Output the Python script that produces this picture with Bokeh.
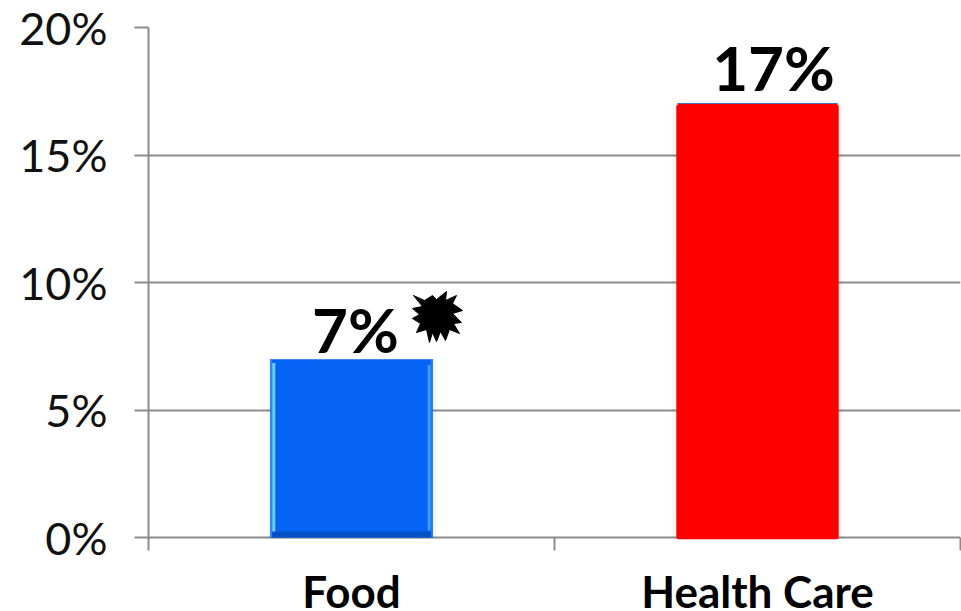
from bokeh.core.properties import value
from bokeh.embed import file_html
from bokeh.layouts import column
from bokeh.models import ColumnDataSource, FixedTicker, LabelSet, Range1d
from bokeh.plotting import figure
from bokeh.resources import INLINE

categories = ["Food", "Health Care"]
values = [7, 17]
bar_colors = ["#0563F5", "#FF0000"]
y_ticks = [0, 5, 10, 15, 20]

GRAY = "#8C8C8C"
FONT = "Lato"
BAR_WIDTH = 0.4
centers = [0.5, 1.5]

# Burst outline beside the Food label, as pixel offsets from its centre
burst_px = [(-24, -20), (-13, -15), (-5, -20), (-1, -16), (9, -24), (8, -15), (19, -20),
            (15, -12), (25, -5), (15, -2), (24, 7), (16, 8), (22, 18), (12, 14),
            (8, 25), (3, 16), (-1, 26), (-5, 17), (-8, 27), (-11, 14), (-21, 17), (-17, 8),
            (-25, 3), (-18, -1), (-25, -7), (-15, -9)]
burst_center_px = (437, 315)

# Pixel layout: one percent spans 25.5 px, the frame runs 2 px below zero
# so the red bar can overhang the baseline.
FRAME_LEFT, FRAME_TOP, FRAME_W, ZERO_Y = 148, 27, 812, 537
OVERHANG, TICK_OUT = 2, 11
PAGE_H = 611
LABEL_H = 61
TOP_BLEED = 8  # extra canvas above the page so the top tick label stays centred on its tick

x_per_px = 2 / FRAME_W
y_per_px = 20 / (ZERO_Y - FRAME_TOP)

p = figure(width=961, height=PAGE_H + TOP_BLEED, output_backend="svg", toolbar_location=None,
           x_range=Range1d(0, 2), y_range=Range1d(-OVERHANG * y_per_px, 20),
           min_border_left=FRAME_LEFT, min_border_right=1,
           min_border_top=FRAME_TOP + TOP_BLEED,
           min_border_bottom=PAGE_H - ZERO_Y - OVERHANG,
           margin=(-TOP_BLEED, 0, 0, 0))
p.outline_line_color = None
p.background_fill_color = "white"
p.border_fill_color = "white"

# Y axis with a percent label on every tick
p.yaxis.ticker = FixedTicker(ticks=y_ticks)
p.yaxis.major_label_overrides = {v: f"{v}%" for v in y_ticks}
p.yaxis.major_label_text_font = FONT
p.yaxis.major_label_text_font_size = "45px"
p.yaxis.major_label_text_color = "#111111"
p.yaxis.major_label_standoff = 27
p.yaxis.axis_line_color = GRAY
p.yaxis.axis_line_width = 2
p.yaxis.major_tick_line_color = GRAY
p.yaxis.major_tick_line_width = 2
p.yaxis.major_tick_in = 0
p.yaxis.major_tick_out = 14
p.yaxis.minor_tick_line_color = None

# X axis: tick marks fall between the categories; the zero grid line is the baseline
p.xaxis.ticker = FixedTicker(ticks=[0, 1, 2])
p.xaxis.major_label_overrides = {0: "", 1: "", 2: ""}
p.xaxis.major_label_standoff = 0
p.xaxis.axis_line_color = None
p.xaxis.major_tick_line_color = GRAY
p.xaxis.major_tick_line_width = 2
p.xaxis.major_tick_in = OVERHANG
p.xaxis.major_tick_out = TICK_OUT
p.xaxis.minor_tick_line_color = None

p.xgrid.visible = False
p.ygrid.ticker = FixedTicker(ticks=y_ticks)
p.ygrid.grid_line_color = GRAY
p.ygrid.grid_line_width = 2

source = ColumnDataSource(dict(
    x=centers, top=values, color=bar_colors, label=[f"{v}%" for v in values],
    dx=[4, 16], dy=[-7, 0],
))

# Soft shadow around the bars
for grow, alpha in [(5, 0.015), (3, 0.02), (1, 0.03)]:
    p.vbar(x="x", top="top", bottom=-min(grow, OVERHANG) * y_per_px,
           width=BAR_WIDTH + 2 * grow * x_per_px,
           source=source, color="#000000", alpha=alpha, line_color=None)

# Health Care bar: rounded red block with a thin blue top edge
p.vbar(x=centers[1], top=values[1] + y_per_px, bottom=values[1], width=BAR_WIDTH - 2 * x_per_px,
       color="#4472C4", line_color=None)
p.vbar(x=centers[1], top=values[1], bottom=-OVERHANG * y_per_px, width=BAR_WIDTH, color=bar_colors[1],
       line_color=None, border_radius=3)

# Food bar with bevelled edges
fx, fv = centers[0], values[0]
left, right = fx - BAR_WIDTH / 2, fx + BAR_WIDTH / 2
p.vbar(x=fx, top=fv, bottom=0, width=BAR_WIDTH, color=bar_colors[0], line_color=None)
p.quad(left=left, right=left + 2 * x_per_px, top=fv, bottom=0, color="#2A86F5", line_color=None)
p.quad(left=left + 2 * x_per_px, right=left + 5 * x_per_px, top=fv - 4 * y_per_px, bottom=5 * y_per_px,
       color="#6FD0FF", line_color=None)
p.quad(left=right - 5 * x_per_px, right=right - 2 * x_per_px, top=fv - 6 * y_per_px, bottom=7 * y_per_px,
       color="#3FA0FF", line_color=None)
p.quad(left=right - 2 * x_per_px, right=right, top=fv, bottom=0, color="#1F7AF0", line_color=None)
p.quad(left=left + 2 * x_per_px, right=right - 2 * x_per_px, top=6 * y_per_px, bottom=0,
       color="#0450C4", line_color=None)
p.quad(left=left, right=right, top=fv, bottom=fv - y_per_px, color="#3D8BF0", line_color=None)

# Value labels above the bars
p.add_layout(LabelSet(x="x", y="top", text="label", source=source, x_offset="dx", y_offset="dy",
                      text_font=value(FONT), text_font_style="bold", text_font_size="62px",
                      text_color="black", text_align="center", text_baseline="bottom"))

# Burst marker next to the Food value
burst_x = [(burst_center_px[0] + dx - FRAME_LEFT) * x_per_px for dx, _ in burst_px]
burst_y = [(ZERO_Y - burst_center_px[1] - dy) * y_per_px for _, dy in burst_px]
p.patch(burst_x, burst_y, color="black", line_color="black", line_join="round")

# Category names in a transparent strip laid over the plot's bottom margin
names = figure(width=961, height=LABEL_H, output_backend="svg", toolbar_location=None,
               x_range=p.x_range, y_range=Range1d(0, 1),
               min_border_left=FRAME_LEFT, min_border_right=1, min_border_top=0, min_border_bottom=0,
               margin=(-LABEL_H, 0, 0, 0))
names.outline_line_color = None
names.background_fill_alpha = 0
names.border_fill_alpha = 0
names.axis.visible = False
names.grid.visible = False
names.text(x=centers, y=[0.33] * len(centers), text=categories, text_font=value(FONT),
           text_font_style="bold", text_font_size="44px", text_color="black",
           text_align="center", text_baseline="middle")

open("out.html", "w").write(file_html(column(p, names, spacing=0), INLINE))
